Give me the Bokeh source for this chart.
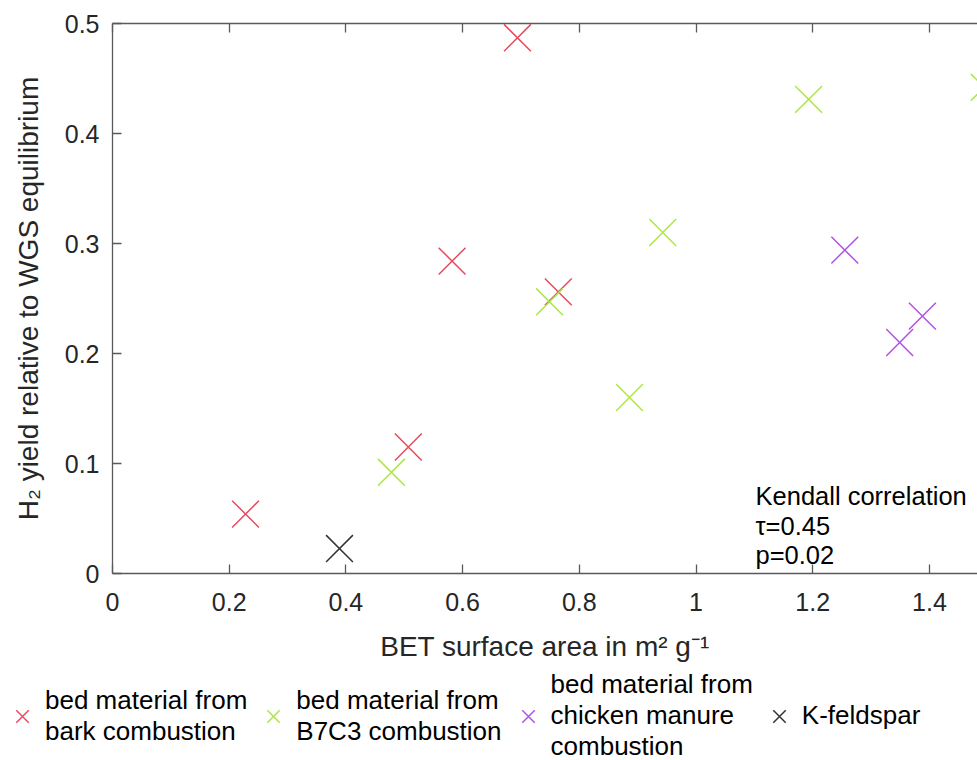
from bokeh.plotting import figure
from bokeh.models import (Range1d, LinearAxis, FixedTicker, Label, Legend, LegendItem)
from bokeh.embed import file_html
from bokeh.resources import INLINE

# ---- data ----
bark_x = [0.228, 0.507, 0.582, 0.694, 0.764]
bark_y = [0.054, 0.115, 0.284, 0.487, 0.256]
b7c3_x = [0.478, 0.749, 0.886, 0.943, 1.193, 1.494]
b7c3_y = [0.092, 0.247, 0.160, 0.310, 0.431, 0.442]
chicken_x = [1.255, 1.349, 1.388]
chicken_y = [0.294, 0.210, 0.234]
feldspar_x = [0.389]
feldspar_y = [0.0227]

series_labels = ["bed material from\nbark combustion",
                 "bed material from\nB7C3 combustion",
                 "bed material from\nchicken manure\ncombustion",
                 "K-feldspar"]
series_colors = ["#e84a5f", "#ade646", "#b152e6", "#333333"]
series = [(bark_x, bark_y), (b7c3_x, b7c3_y), (chicken_x, chicken_y), (feldspar_x, feldspar_y)]

x_ticks = [0, 0.2, 0.4, 0.6, 0.8, 1.0, 1.2, 1.4]
x_tick_labels = ["0", "0.2", "0.4", "0.6", "0.8", "1", "1.2", "1.4"]
y_ticks = [0, 0.1, 0.2, 0.3, 0.4, 0.5]
y_tick_labels = ["0", "0.1", "0.2", "0.3", "0.4", "0.5"]

x_title = "BET surface area in m\u00b2 g\u207b\u00b9"
y_title = "H\u2082 yield relative to WGS equilibrium"

FONT = "Liberation Sans"
AX = "#5a5a5a"
TXT = "#262626"

# ---------------- main axes ----------------
p = figure(width=977, height=666, output_backend="svg", toolbar_location=None,
           x_range=Range1d(0, 1.4824), y_range=Range1d(0, 0.5),
           min_border_left=112, min_border_right=0, min_border_top=23,
           min_border_bottom=93)
p.grid.visible = False
p.outline_line_color = None
p.background_fill_color = "white"

for ax, ticks, labs in ((p.xaxis[0], x_ticks, x_tick_labels), (p.yaxis[0], y_ticks, y_tick_labels)):
    ax.ticker = FixedTicker(ticks=ticks)
    ax.major_label_overrides = {t: l for t, l in zip(ticks, labs)}
    ax.major_tick_in = 9
    ax.major_tick_out = 0
    ax.minor_tick_line_color = None
    ax.axis_line_color = AX
    ax.axis_line_width = 1.3
    ax.major_tick_line_color = AX
    ax.major_tick_line_width = 1.3
    ax.major_label_text_font = FONT
    ax.major_label_text_font_size = "25px"
    ax.major_label_text_color = TXT
    ax.axis_label_text_font = FONT
    ax.axis_label_text_font_size = "28px"
    ax.axis_label_text_font_style = "normal"
    ax.axis_label_text_color = TXT
p.xaxis[0].major_label_standoff = 19
p.yaxis[0].major_label_standoff = 13
p.xaxis[0].axis_label = x_title
p.yaxis[0].axis_label = y_title
p.xaxis[0].axis_label_standoff = 17
p.yaxis[0].axis_label_standoff = 18

top = LinearAxis(ticker=FixedTicker(ticks=x_ticks),
                 major_label_overrides={t: "" for t in x_ticks},
                 major_label_standoff=0, major_tick_in=9, major_tick_out=0,
                 minor_tick_line_color=None, axis_line_color=AX, axis_line_width=1.3,
                 major_tick_line_color=AX, major_tick_line_width=1.3)
p.add_layout(top, "above")

for (xs, ys), col in zip(series, series_colors):
    p.scatter(xs, ys, marker="x", size=38, line_color=col, line_width=1.5)

# Kendall annotation (inside the axes)
for yy, txt in ((0.0709, "Kendall correlation"), (0.0436, "\u03c4=0.45"), (0.0164, "p=0.02")):
    p.add_layout(Label(x=1.102, y=yy, text=txt, text_font=FONT, text_font_size="25.5px",
                       text_color="black", text_align="left", text_baseline="alphabetic"))

# ---------------- legend strip (separate root below the axes) ----------------
pl = figure(width=977, height=94, output_backend="svg", toolbar_location=None,
            x_range=Range1d(0, 1.4824), y_range=Range1d(0, 0.5),
            x_axis_location=None, y_axis_location=None,
            min_border_left=0, min_border_right=0, min_border_top=0, min_border_bottom=0)
pl.grid.visible = False
pl.outline_line_color = None
leg_renderers = []
for (xs, ys), col in zip(series, series_colors):
    leg_renderers.append(pl.scatter(xs, ys, marker="x", size=38, line_color=col,
                                    line_width=1.5, visible=False))

legend = Legend(items=[LegendItem(label=lab, renderers=[r]) for lab, r in zip(series_labels, leg_renderers)],
                orientation="horizontal", location=(0, -2),
                label_text_font=FONT, label_text_font_size="26px", label_text_color="black",
                label_text_line_height=1.04, glyph_width=44, glyph_height=44,
                label_standoff=1, spacing=4, padding=0, margin=0,
                border_line_color=None, background_fill_alpha=0)
pl.add_layout(legend, "center")

open("out.html", "w").write(file_html([p, pl], INLINE))
